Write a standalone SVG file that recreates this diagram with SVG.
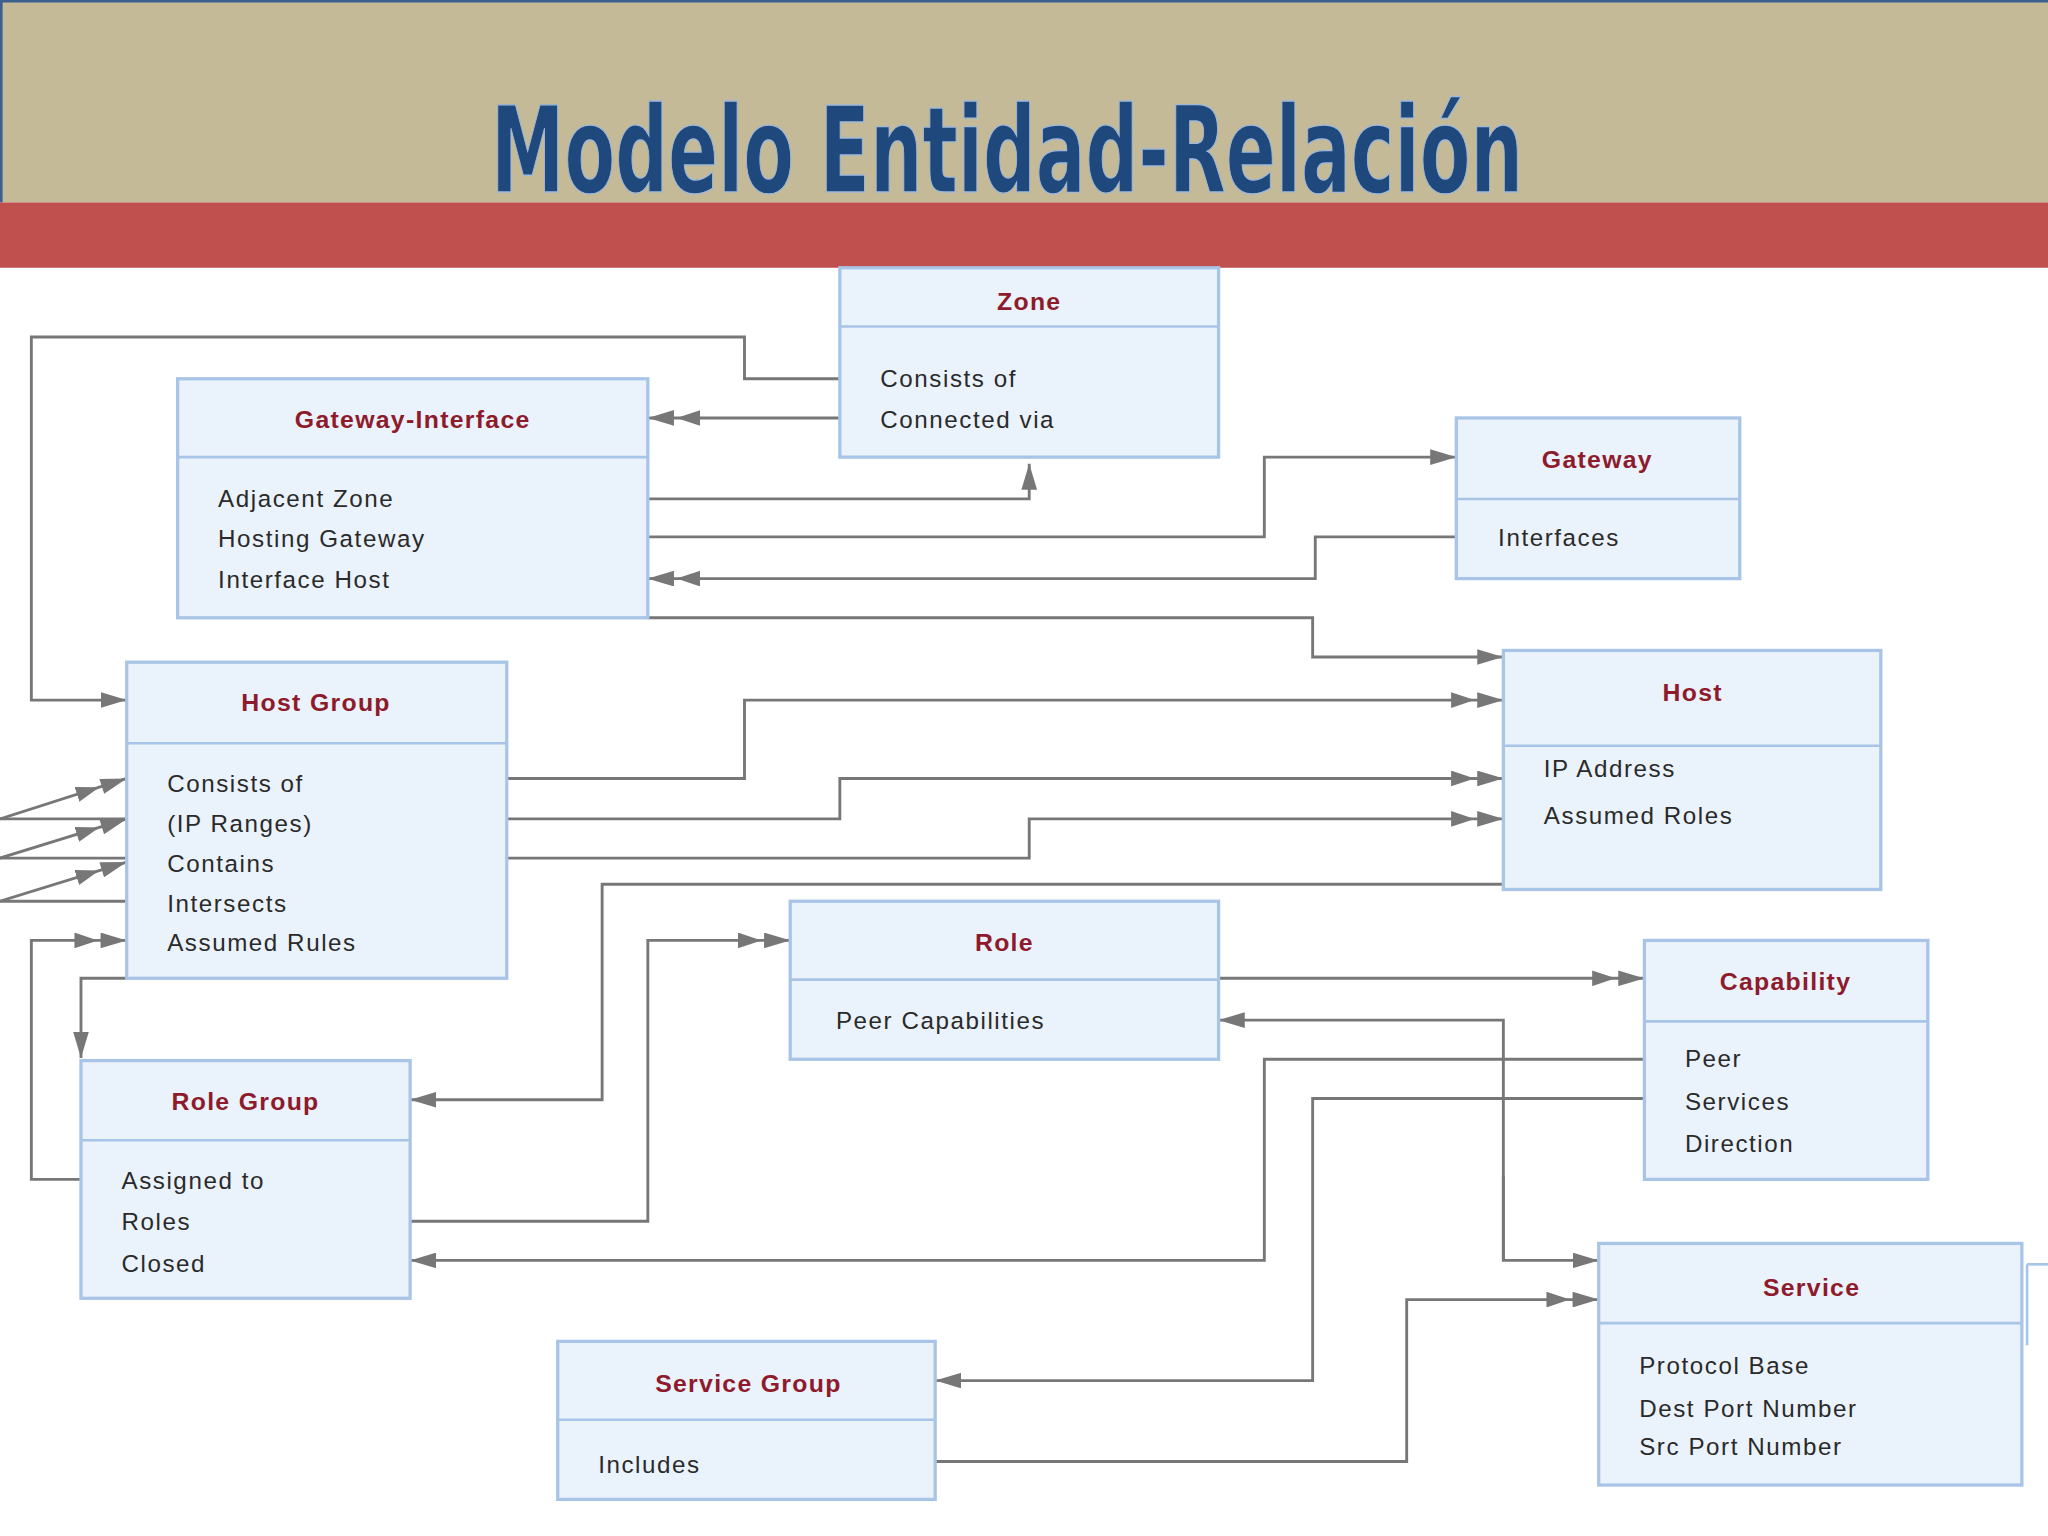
<svg xmlns="http://www.w3.org/2000/svg" width="2048" height="1536" viewBox="0 0 2048 1536">
<style>
.box{fill:#eaf2fb;stroke:#a8c4e6;stroke-width:2.5}
.div{stroke:#a8c4e6;stroke-width:2}
.t{font-family:"Liberation Sans",Arial,sans-serif;font-weight:bold;font-size:19px;fill:#8e1b2c;text-anchor:middle;letter-spacing:1px}
.b{font-family:"Liberation Sans",Arial,sans-serif;font-size:18.5px;fill:#2a2a2a;letter-spacing:1.2px}
.c{fill:none;stroke:#777;stroke-width:2.2}
.d{marker-end:url(#a2)}
.s{marker-end:url(#a1)}
</style>
<defs>
<marker id="a1" markerWidth="20" markerHeight="12" refX="20" refY="6" orient="auto" markerUnits="userSpaceOnUse"><path d="M0,0L20,6L0,12z" fill="#777"/></marker>
<marker id="a2" markerWidth="40" markerHeight="12" refX="40" refY="6" orient="auto" markerUnits="userSpaceOnUse"><path d="M0,0L18,6L0,12zM20,0L40,6L20,12z" fill="#777"/></marker>
</defs>
<rect width="2048" height="1536" fill="#fff"/>
<g transform="scale(1.30612)">
<rect x="0" y="0" width="1568" height="155" fill="#c4ba97"/>
<line x1="0" y1="1" x2="1568" y2="1" stroke="#3b5f8f" stroke-width="2"/>
<line x1="1" y1="0" x2="1" y2="155" stroke="#3b5f8f" stroke-width="2"/>
<rect x="0" y="155" width="1568" height="50" fill="#c0504d"/>
<text x="771" y="147" text-anchor="middle" font-family="'DejaVu Sans Condensed','DejaVu Sans',sans-serif" font-weight="bold" font-size="92" fill="#1f497d" stroke="#9fb8d8" stroke-width="1" textLength="790" lengthAdjust="spacingAndGlyphs">Modelo Entidad-Relación</text>

<g id="connectors">
<path class="c s" d="M643,290H570V258H24V536H97"/>
<path class="c d" d="M643,320H496"/>
<path class="c s" d="M496,382H788V355"/>
<path class="c s" d="M496,411H968V350H1115"/>
<path class="c d" d="M1115,411H1007V443H496"/>
<path class="c s" d="M496,473H1005V503H1151"/>
<path class="c d" d="M388,596H570V536H1151"/>
<path class="c d" d="M388,627H643V596H1151"/>
<path class="c d" d="M388,657H788V627H1151"/>
<path class="c s" d="M1151,677H461V842H314"/>
<path class="c" d="M0,627H97M0,657H97M0,690H97"/>
<path class="c d" d="M0,627L97,596"/>
<path class="c d" d="M0,657L97,627"/>
<path class="c d" d="M0,690L97,660"/>
<path class="c d" d="M62,903H24V720H97"/>
<path class="c s" d="M97,749H62V810"/>
<path class="c d" d="M314,935H496V720H605"/>
<path class="c s" d="M1259,811H968V965H314"/>
<path class="c d" d="M933,749H1259"/>
<path class="c s" d="M1151,965V781H933"/>
<path class="c s" d="M1151,900V965H1224"/>
<path class="c s" d="M1259,841H1005V1057H716"/>
<path class="c d" d="M716,1119H1077V995H1224"/>
</g>

<g id="zone"><rect class="box" x="643" y="205" width="290" height="145"/><line class="div" x1="643" y1="250" x2="933" y2="250"/>
<text class="t" x="788" y="237">Zone</text><text class="b" x="674" y="296">Consists of</text><text class="b" x="674" y="328">Connected via</text></g>
<g id="gateway-interface"><rect class="box" x="136" y="290" width="360" height="183"/><line class="div" x1="136" y1="350" x2="496" y2="350"/>
<text class="t" x="316" y="328">Gateway-Interface</text><text class="b" x="167" y="388">Adjacent Zone</text><text class="b" x="167" y="419">Hosting Gateway</text><text class="b" x="167" y="450">Interface Host</text></g>
<g id="gateway"><rect class="box" x="1115" y="320" width="217" height="123"/><line class="div" x1="1115" y1="382" x2="1332" y2="382"/>
<text class="t" x="1223" y="358">Gateway</text><text class="b" x="1147" y="418">Interfaces</text></g>
<g id="host-group"><rect class="box" x="97" y="507" width="291" height="242"/><line class="div" x1="97" y1="569" x2="388" y2="569"/>
<text class="t" x="242" y="544">Host Group</text><text class="b" x="128" y="606">Consists of</text><text class="b" x="128" y="637">(IP Ranges)</text><text class="b" x="128" y="668">Contains</text><text class="b" x="128" y="698">Intersects</text><text class="b" x="128" y="728">Assumed Rules</text></g>
<g id="host"><rect class="box" x="1151" y="498" width="289" height="183"/><line class="div" x1="1151" y1="571" x2="1440" y2="571"/>
<text class="t" x="1296" y="537">Host</text><text class="b" x="1182" y="595">IP Address</text><text class="b" x="1182" y="631">Assumed Roles</text></g>
<g id="role"><rect class="box" x="605" y="690" width="328" height="121"/><line class="div" x1="605" y1="750" x2="933" y2="750"/>
<text class="t" x="769" y="728">Role</text><text class="b" x="640" y="788">Peer Capabilities</text></g>
<g id="capability"><rect class="box" x="1259" y="720" width="217" height="183"/><line class="div" x1="1259" y1="782" x2="1476" y2="782"/>
<text class="t" x="1367" y="758">Capability</text><text class="b" x="1290" y="817">Peer</text><text class="b" x="1290" y="850">Services</text><text class="b" x="1290" y="882">Direction</text></g>
<g id="role-group"><rect class="box" x="62" y="812" width="252" height="182"/><line class="div" x1="62" y1="873" x2="314" y2="873"/>
<text class="t" x="188" y="850">Role Group</text><text class="b" x="93" y="910">Assigned to</text><text class="b" x="93" y="942">Roles</text><text class="b" x="93" y="974">Closed</text></g>
<g id="service"><rect class="box" x="1224" y="952" width="324" height="185"/><line class="div" x1="1224" y1="1013" x2="1548" y2="1013"/>
<line class="div" x1="1552" y1="968" x2="1568" y2="968"/><line class="div" x1="1552" y1="968" x2="1552" y2="1030"/>
<text class="t" x="1387" y="992">Service</text><text class="b" x="1255" y="1052">Protocol Base</text><text class="b" x="1255" y="1085">Dest Port Number</text><text class="b" x="1255" y="1114">Src Port Number</text></g>
<g id="service-group"><rect class="box" x="427" y="1027" width="289" height="121"/><line class="div" x1="427" y1="1087" x2="716" y2="1087"/>
<text class="t" x="573" y="1066">Service Group</text><text class="b" x="458" y="1128">Includes</text></g>
</g>
</svg>
